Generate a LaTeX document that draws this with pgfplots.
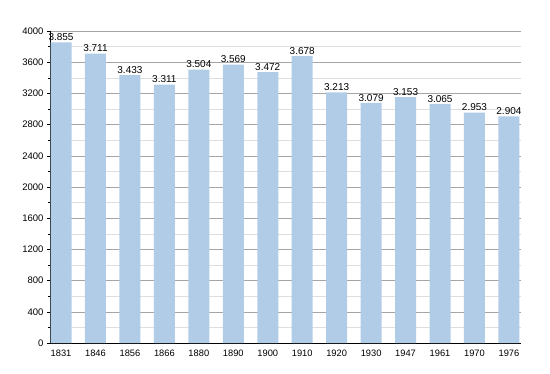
\documentclass[border=0pt]{standalone}
\usepackage{pgfplots}
\pgfplotsset{compat=1.18}
\usepackage{fontspec}
\setmainfont{Liberation Sans}
\definecolor{barblue}{RGB}{176,204,230}
\definecolor{majgrid}{RGB}{165,165,165}
\definecolor{mingrid}{RGB}{222,222,222}
\begin{document}
\begin{tikzpicture}
\begin{axis}[
  scale only axis,
  width=471pt, height=312pt,
  xmin=-0.32, xmax=13.35,
  ymin=0, ymax=4000,
  axis x line*=bottom, axis y line*=left,
  xtick=data,
  xticklabels={1831,1846,1856,1866,1880,1890,1900,1910,1920,1930,1947,1961,1970,1976},
  x tick style={draw=none},
  ytick={0,400,...,4000},
  minor y tick num=1,
  ymajorgrids, yminorgrids,
  major grid style={majgrid, line width=0.6pt},
  minor grid style={mingrid, line width=0.5pt},
  tick align=outside,
  y tick style={black, line width=0.5pt},
  major tick length=3pt, minor tick length=2pt,
  axis line style={black, line width=0.8pt},
  /pgf/number format/assume math mode=true,
  yticklabel style={/pgf/number format/1000 sep={}, font=\fontsize{9.5}{11}\selectfont},
  xticklabel style={font=\fontsize{9.3}{11}\selectfont},
  ybar, bar width=21pt,
  nodes near coords={\pgfmathprintnumber[1000 sep={.}]{\pgfplotspointmeta}},
  every node near coord/.append style={font=\fontsize{10}{12}\selectfont, black, inner sep=1.5pt},
  clip=false,
  axis on top=false,
]
\addplot[fill=barblue, draw=none] coordinates {
(0,3855) (1,3711) (2,3433) (3,3311) (4,3504) (5,3569) (6,3472)
(7,3678) (8,3213) (9,3079) (10,3153) (11,3065) (12,2953) (13,2904)};
\end{axis}
\path (current axis.south west) ++(-50pt,-30pt) rectangle ++(550pt,373pt);
\end{tikzpicture}
\end{document}
